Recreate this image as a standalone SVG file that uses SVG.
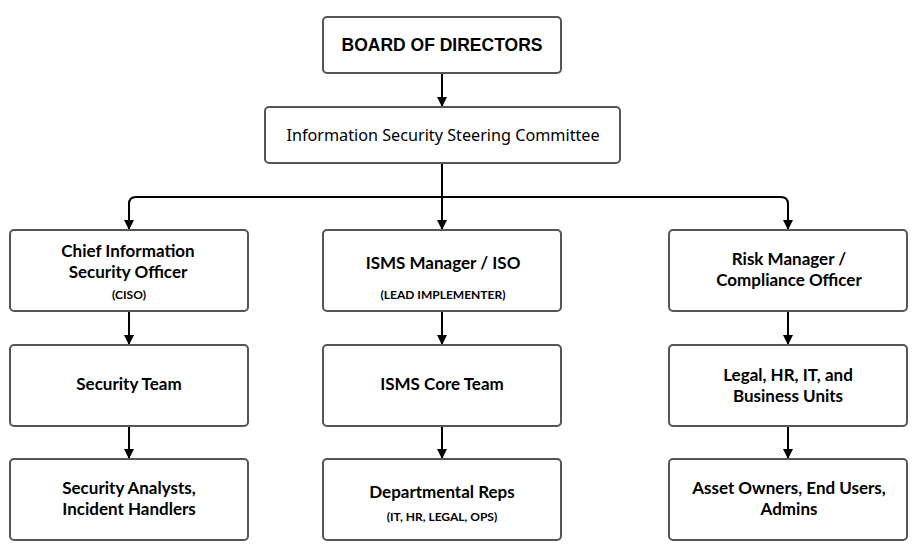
<svg xmlns="http://www.w3.org/2000/svg" width="920" height="549" viewBox="0 0 920 549">
<defs>
<marker id="ah" viewBox="0 0 10 10" refX="9" refY="5" markerWidth="10" markerHeight="10" markerUnits="userSpaceOnUse" orient="auto">
<path d="M0,0 L10,5 L0,10 z" fill="#000"/>
</marker>
<style>
.box{fill:#fff;stroke:#555;stroke-width:2}
.t{font-family:Lato,"Noto Sans",sans-serif;font-weight:700;font-size:17px;fill:#000;text-anchor:middle}
.s{font-family:Lato,"Noto Sans",sans-serif;font-weight:700;font-size:12px;fill:#000;text-anchor:middle}
.c{fill:none;stroke:#000;stroke-width:2}
</style>
</defs>
<rect width="920" height="549" fill="#fff"/>
<g id="connectors">
<path class="c" d="M442,73 V106" marker-end="url(#ah)"/>
<path class="c" d="M442,163 V229" marker-end="url(#ah)"/>
<path class="c" d="M442,197 H136 Q129,197 129,204 V229" marker-end="url(#ah)"/>
<path class="c" d="M442,197 H781 Q788,197 788,204 V229" marker-end="url(#ah)"/>
<path class="c" d="M129,311 V344" marker-end="url(#ah)"/>
<path class="c" d="M442,311 V344" marker-end="url(#ah)"/>
<path class="c" d="M788,311 V344" marker-end="url(#ah)"/>
<path class="c" d="M129,426 V458" marker-end="url(#ah)"/>
<path class="c" d="M442,426 V458" marker-end="url(#ah)"/>
<path class="c" d="M788,426 V458" marker-end="url(#ah)"/>
</g>
<g id="board"><rect class="box" x="323" y="17" width="238" height="56" rx="4"/>
<text x="442" y="51" style="font-family:'Liberation Sans',Arial,sans-serif;font-weight:700;font-size:17.5px;fill:#000;text-anchor:middle">BOARD OF DIRECTORS</text></g>
<g id="steering"><rect class="box" x="265" y="107" width="355" height="56" rx="4"/>
<text x="443" y="141" style="font-family:'Noto Sans',sans-serif;font-size:16.2px;fill:#000;text-anchor:middle">Information Security Steering Committee</text></g>
<g id="ciso"><rect class="box" x="10" y="230" width="238" height="81" rx="4"/>
<text class="t" x="128" y="257">Chief Information</text>
<text class="t" x="128" y="278">Security Officer</text>
<text class="s" x="129" y="299">(CISO)</text></g>
<g id="isms"><rect class="box" x="323" y="230" width="238" height="81" rx="4"/>
<text class="t" x="443" y="269">ISMS Manager / ISO</text>
<text class="s" x="443" y="299">(LEAD IMPLEMENTER)</text></g>
<g id="risk"><rect class="box" x="669" y="230" width="238" height="81" rx="4"/>
<text class="t" x="789" y="265">Risk Manager /</text>
<text class="t" x="789" y="286">Compliance Officer</text></g>
<g id="secteam"><rect class="box" x="10" y="345" width="238" height="81" rx="4"/>
<text class="t" x="129" y="390">Security Team</text></g>
<g id="ismscore"><rect class="box" x="323" y="345" width="238" height="81" rx="4"/>
<text class="t" x="442" y="390">ISMS Core Team</text></g>
<g id="units"><rect class="box" x="669" y="345" width="238" height="81" rx="4"/>
<text class="t" x="788" y="381">Legal, HR, IT, and</text>
<text class="t" x="788" y="402">Business Units</text></g>
<g id="analysts"><rect class="box" x="10" y="459" width="238" height="81" rx="4"/>
<text class="t" x="129" y="494">Security Analysts,</text>
<text class="t" x="129" y="515">Incident Handlers</text></g>
<g id="reps"><rect class="box" x="323" y="459" width="238" height="81" rx="4"/>
<text class="t" x="442" y="498">Departmental Reps</text>
<text class="s" x="442" y="521">(IT, HR, LEGAL, OPS)</text></g>
<g id="owners"><rect class="box" x="669" y="459" width="238" height="81" rx="4"/>
<text class="t" x="789" y="494">Asset Owners, End Users,</text>
<text class="t" x="789" y="515">Admins</text></g>
</svg>
